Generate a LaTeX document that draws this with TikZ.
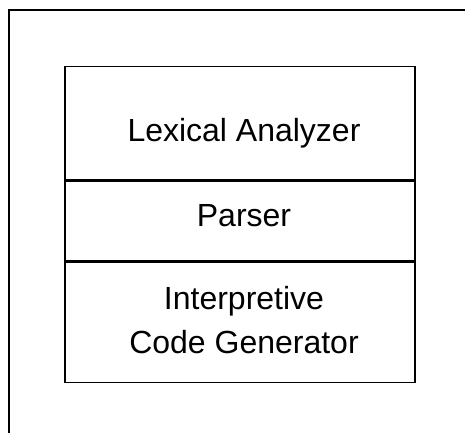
\documentclass[tikz,border=0pt]{standalone}
\usepackage{fontspec}
\setmainfont{Liberation Sans}
\begin{document}
\begin{tikzpicture}[x=1pt,y=-1pt,
  frameline/.style={line width=2pt},
  layer/.style={draw,line width=1.4pt,rectangle,inner sep=0pt,minimum width=350pt},
  caption/.style={anchor=base,inner sep=0pt,font=\fontsize{32}{44}\selectfont,align=center}]
  \useasboundingbox (0,0) rectangle (465,432);
  % outer frame (continues past the page edge on the right and bottom)
  \coordinate (fbl) at (8.5,445);
  \coordinate (ftl) at (8.5,10);
  \coordinate (ftr) at (480,10);
  \draw[frameline] (fbl) -- (ftl) -- (ftr);
  % stacked layers
  \node[layer,minimum height=113.3pt,anchor=north west] (lex) at (64.3,65.7) {};
  \node[layer,minimum height=79.7pt,anchor=north west] (parse) at (lex.south west) {};
  \node[layer,minimum height=120pt,anchor=north west] (gen) at (parse.south west) {};
  % layer names
  \node[caption] (lexname) at (244,141.7) {Lexical Analyzer};
  \node[caption] (parsename) at (244,226.7) {Parser};
  \node[caption] (genname1) at (244,309) {Interpretive};
  \node[caption] (genname2) at (244,353) {Code Generator};
\end{tikzpicture}
\end{document}
